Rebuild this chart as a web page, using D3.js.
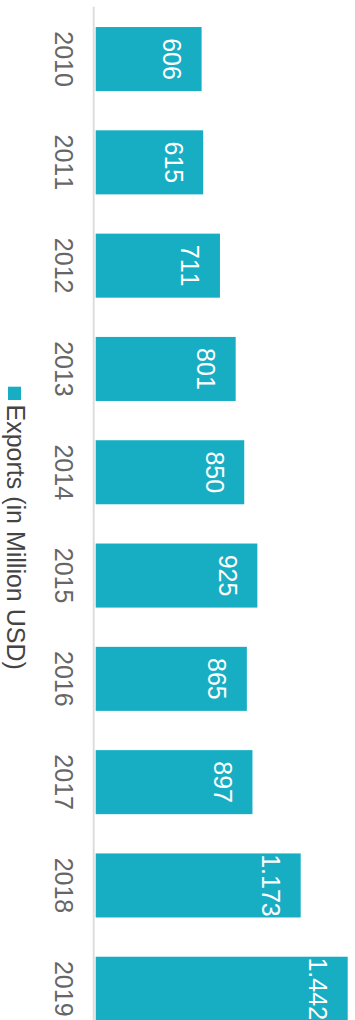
<!DOCTYPE html>
<html>
<head>
<meta charset="utf-8">
<script src="https://cdn.jsdelivr.net/npm/d3@7"></script>
<style>
  html, body { margin: 0; padding: 0; background: #fff; }
  svg { display: block; font-family: "Liberation Sans", Arial, Helvetica, sans-serif; font-kerning: none; }
</style>
</head>
<body>
<div id="chart"></div>
<script>
// Annual exports, million USD
const years = ["2010", "2011", "2012", "2013", "2014", "2015", "2016", "2017", "2018", "2019"];
const exportsMillionUSD = [606, 615, 711, 801, 850, 925, 865, 897, 1173, 1442];
const seriesName = "Exports (in Million USD)";

const W = 355, H = 1020;
const barColor = "#17aec4";

// Column chart laid out in a 1020 x 355 frame, turned a quarter clockwise into the page
const CW = H, CH = W;

const svg = d3.select("#chart").append("svg")
  .attr("width", W).attr("height", H);

const g = svg.append("g")
  .attr("transform", `translate(${W},0) rotate(90)`);

const x = d3.scaleBand()
  .domain(years)
  .range([7.4, 7.4 + 103.3 * years.length])
  .paddingInner(0.38)
  .paddingOuter(0.19);

const y = d3.scaleLinear()
  .domain([0, d3.max(exportsMillionUSD)])
  .range([259.3, 7.3]);

const data = years.map((yr, i) => ({ year: yr, value: exportsMillionUSD[i] }));

// value formatting with "." as thousands separator
const fmt = d3.formatLocale({ decimal: ",", thousands: ".", grouping: [3], currency: ["", ""] }).format(",d");

// category axis line
g.append("line")
  .attr("x1", 6.7).attr("x2", CW + 10)
  .attr("y1", 261.3).attr("y2", 261.3)
  .attr("stroke", "#dddddd").attr("stroke-width", 2);

// bars
g.selectAll("rect.bar").data(data).join("rect")
  .attr("class", "bar")
  .attr("x", d => x(d.year))
  .attr("width", x.bandwidth())
  .attr("y", d => y(d.value))
  .attr("height", d => y(0) - y(d.value))
  .attr("fill", barColor);

// value labels inside bar tops
g.selectAll("text.val").data(data).join("text")
  .attr("class", "val")
  .attr("x", d => x(d.year) + x.bandwidth() / 2)
  .attr("y", d => y(d.value) + 38.5)
  .attr("text-anchor", "middle")
  .attr("fill", "#ffffff")
  .attr("font-size", 25)
  .text(d => fmt(d.value));

// category labels
g.selectAll("text.cat").data(data).join("text")
  .attr("class", "cat")
  .attr("x", d => x(d.year) + x.bandwidth() / 2)
  .attr("y", 300.5)
  .attr("text-anchor", "middle")
  .attr("fill", "#666666")
  .attr("font-size", 25)
  .text(d => d.year);

// legend
const legend = g.append("g");
legend.append("rect")
  .attr("x", 386.7).attr("y", 334)
  .attr("width", 13.3).attr("height", 13)
  .attr("fill", barColor);
legend.append("text")
  .attr("x", 404.5)
  .attr("y", 348)
  .attr("fill", "#444444")
  .attr("font-size", 25)
  .text(seriesName);
</script>
</body>
</html>
